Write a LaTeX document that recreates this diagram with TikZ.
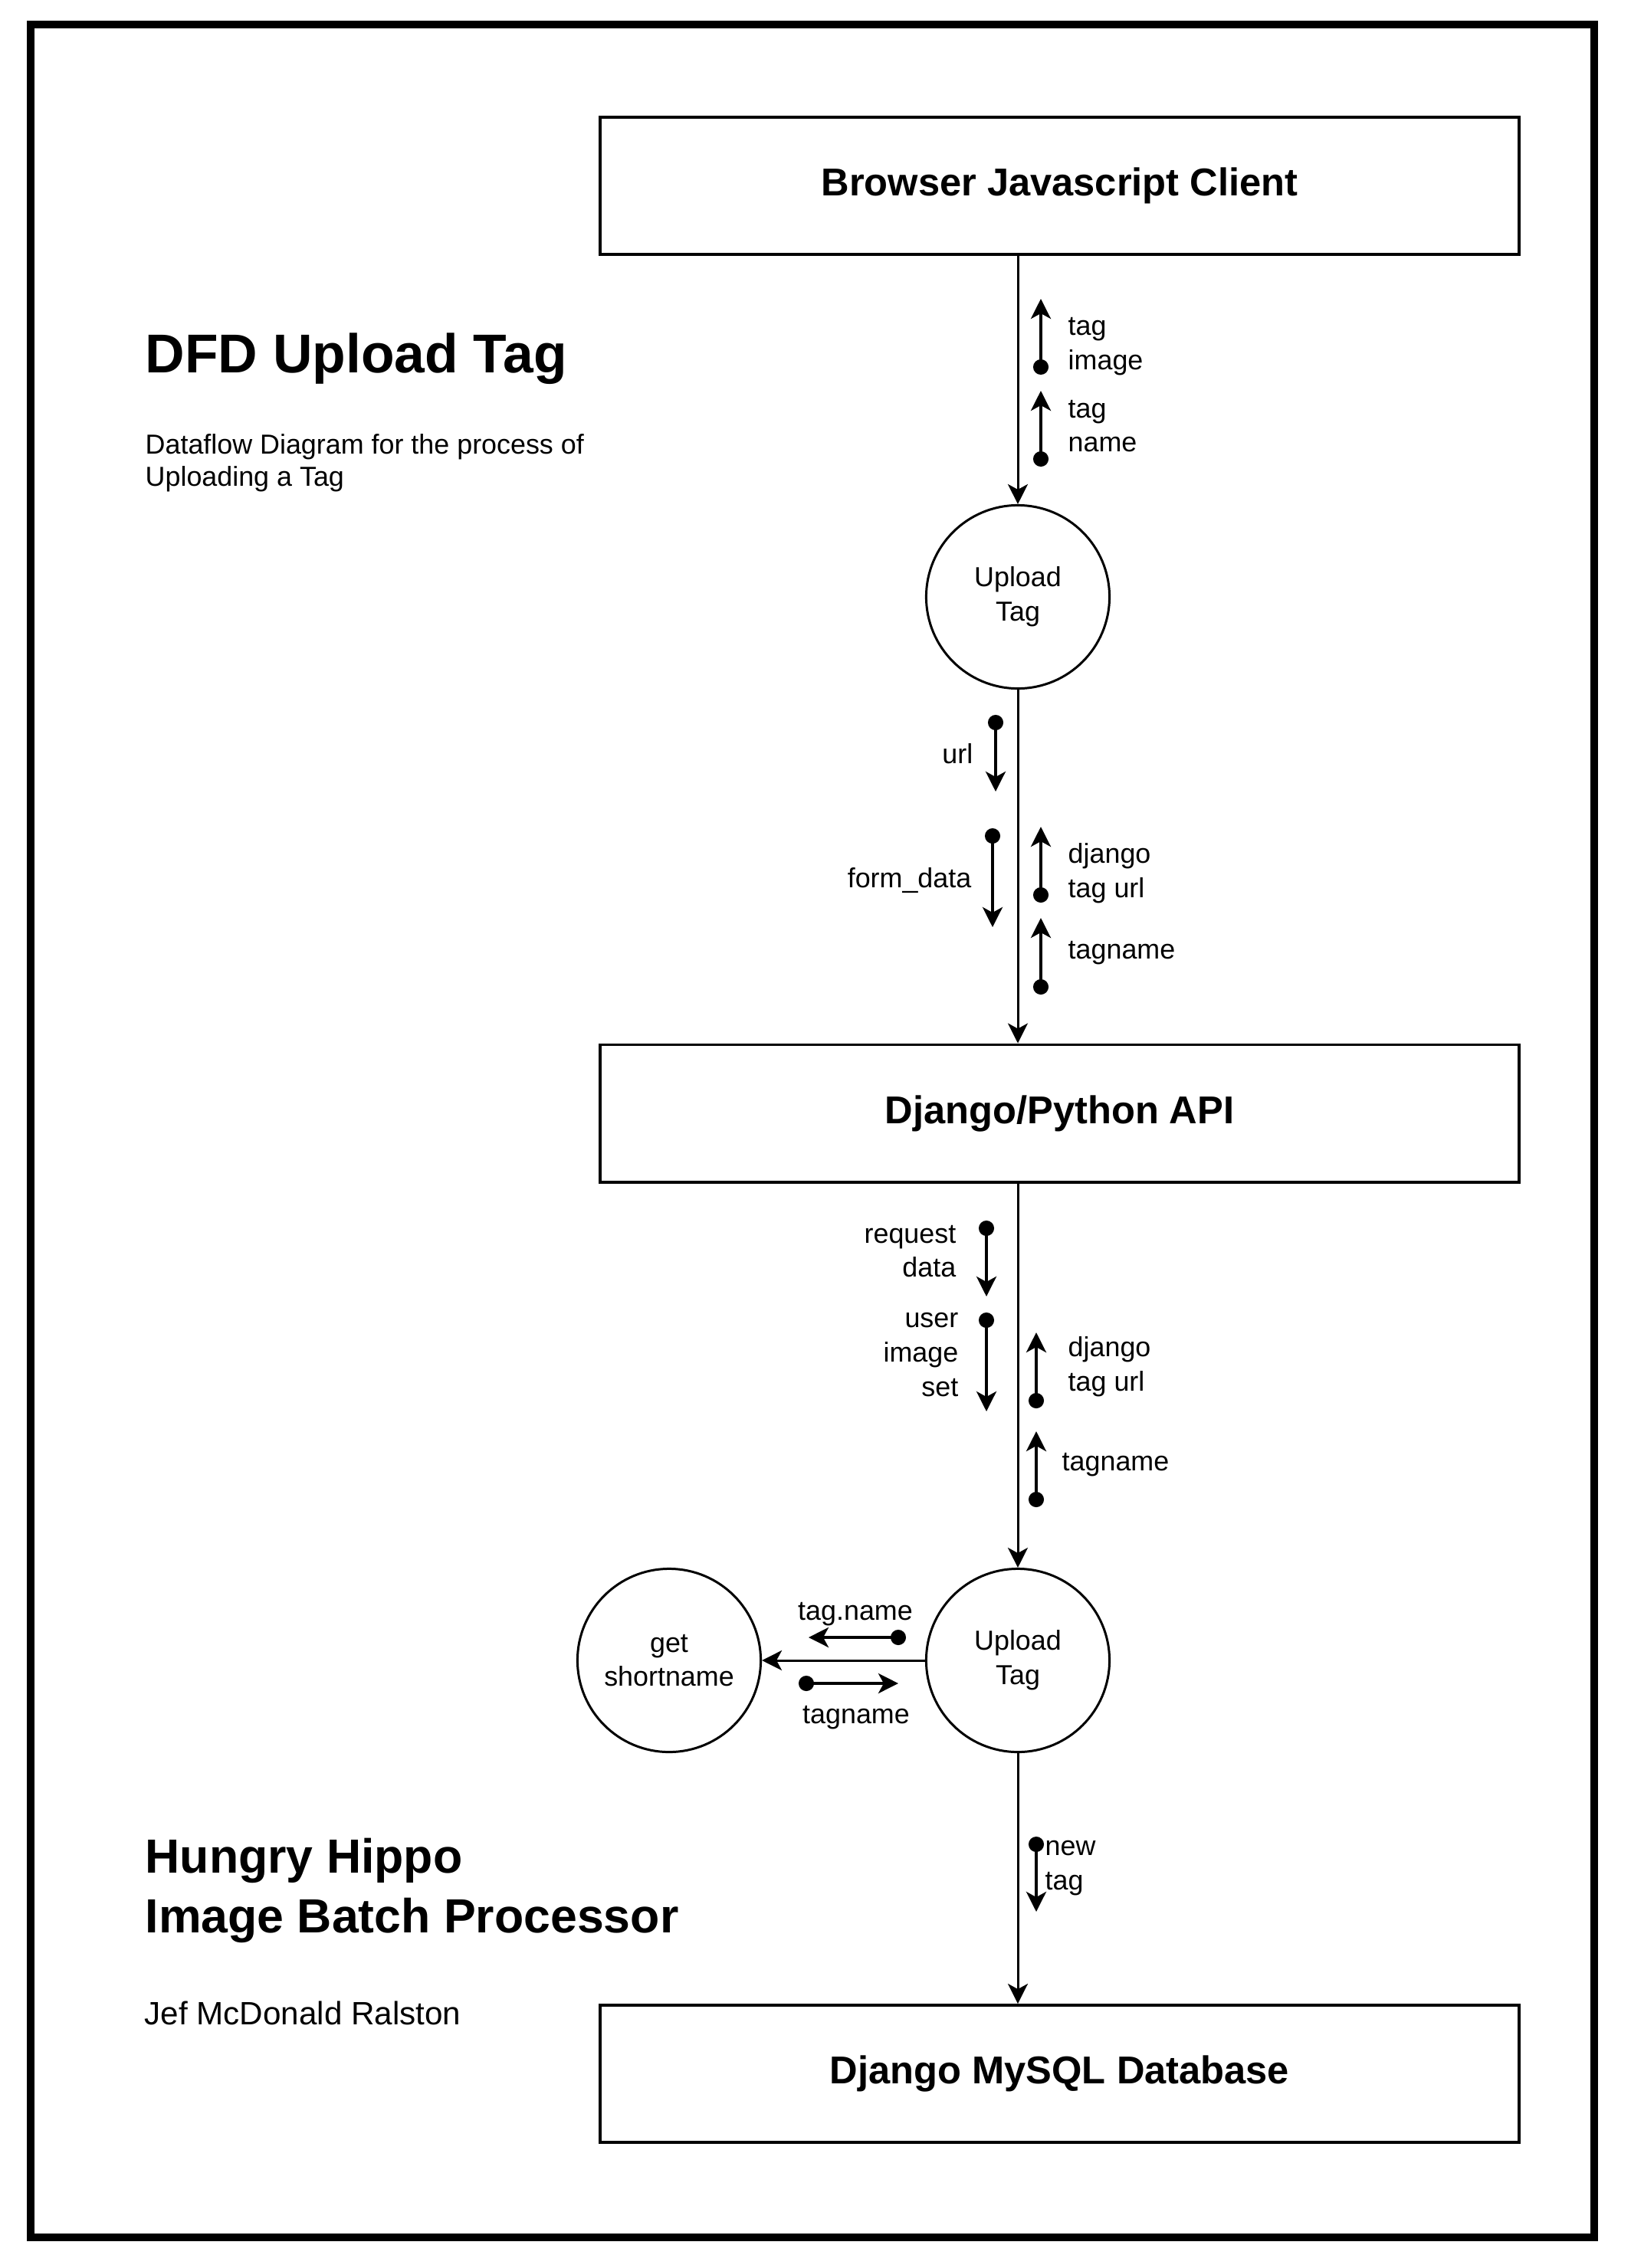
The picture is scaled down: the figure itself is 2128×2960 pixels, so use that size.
\documentclass[tikz,border=0pt]{standalone}
\usepackage{fontspec}
\setmainfont{Liberation Sans}
\usepackage{tikz}
\usetikzlibrary{arrows.meta,shapes,positioning,calc}
\newcommand{\lblfont}{\fontsize{10.2}{12.7}\selectfont}

\begin{document}
\begin{tikzpicture}[x=0.01cm, y=-0.01cm,
    store/.style={draw, line width=1.1pt, minimum width=11.99cm, minimum height=1.79cm,
        font=\bfseries\fontsize{14.4}{17}\selectfont},
    proc/.style={draw, circle, line width=0.85pt, minimum size=2.39cm, align=center,
        inner sep=0pt, font=\lblfont},
    flowline/.style={line width=0.85pt, -{Stealth[length=0.26cm, width=0.26cm, inset=0.07cm]}},
    datum/.style={line width=1.1pt,
        {Circle[length=0.2cm]}-{Stealth[length=0.26cm, width=0.26cm, inset=0.07cm]}},
    lbl/.style={inner sep=0pt, align=left, font=\lblfont},
    lblr/.style={inner sep=0pt, align=right, font=\lblfont}]
    \useasboundingbox (0,0) rectangle (2128,2960);

    % Page frame
    \draw[line width=2.85pt] (40,32) rectangle (2080,2920);

    % Titles
    \node[inner sep=0pt, anchor=west, font=\bfseries\fontsize{20.3}{24}\selectfont] (title) at (189,468) {DFD Upload Tag};
    \node[inner sep=0pt, anchor=west, align=left, font=\fontsize{10.2}{12}\selectfont] (subtitle) at (189,604)
        {Dataflow Diagram for the process of\\Uploading a Tag};
    \node[inner sep=0pt, anchor=west, align=left, font=\bfseries\fontsize{17.8}{22.2}\selectfont] (project) at (189,2467)
        {Hungry Hippo\\Image Batch Processor};
    \node[inner sep=0pt, anchor=west, font=\fontsize{12}{14}\selectfont] (author) at (188,2627) {Jef McDonald Ralston};

    % Entities and processes
    \node[store] (browser) at (1382.5,242.5) {Browser Javascript Client};
    \node[proc] (upload1) at (1328,779) {Upload\\Tag};
    \node[store] (api) at (1382.5,1453) {Django/Python API};
    \node[proc] (upload2) at (1328,2167) {Upload\\Tag};
    \node[proc] (shortname) at (873,2167) {get\\shortname};
    \node[store] (mysql) at (1382.5,2706.5) {Django MySQL Database};

    % Main flows
    \draw[flowline] (upload1 |- browser.south) -- (upload1.north);
    \draw[flowline] (upload1.south) -- (upload1 |- api.north);
    \draw[flowline] (upload2 |- api.south) -- (upload2.north);
    \draw[flowline] (upload2.west) -- (shortname.east);
    \draw[flowline] (upload2.south) -- (upload2 |- mysql.north);

    % Data items: browser -> upload
    \coordinate (d1a) at (1358,489);  \coordinate (d1b) at (1358,390);
    \coordinate (d2a) at (1358,609);  \coordinate (d2b) at (1358,510);
    \draw[datum] (d1a) -- (d1b);
    \draw[datum] (d2a) -- (d2b);
    \node[lbl, anchor=west] (l1) at (1393,452) {tag\\image};
    \node[lbl, anchor=west] (l2) at (1393,556) {tag\\name};

    % Data items: upload -> api
    \coordinate (d3a) at (1299,933);  \coordinate (d3b) at (1299,1033);
    \coordinate (d4a) at (1295,1081); \coordinate (d4b) at (1295,1210);
    \coordinate (d5a) at (1358,1178); \coordinate (d5b) at (1358,1079);
    \coordinate (d6a) at (1358,1298); \coordinate (d6b) at (1358,1198);
    \draw[datum] (d3a) -- (d3b);
    \draw[datum] (d4a) -- (d4b);
    \draw[datum] (d5a) -- (d5b);
    \draw[datum] (d6a) -- (d6b);
    \node[lblr, anchor=east] (l3) at (1270,984) {url};
    \node[lblr, anchor=east] (l4) at (1268,1149) {form\_data};
    \node[lbl, anchor=west] (l5) at (1393,1140) {django\\tag url};
    \node[lbl, anchor=west] (l6) at (1393,1244) {tagname};

    % Data items: api -> upload
    \coordinate (d7a) at (1287,1593);  \coordinate (d7b) at (1287,1692);
    \coordinate (d8a) at (1287,1713);  \coordinate (d8b) at (1287,1842);
    \coordinate (d9a) at (1352,1838);  \coordinate (d9b) at (1352,1739);
    \coordinate (d10a) at (1352,1967); \coordinate (d10b) at (1352,1868);
    \draw[datum] (d7a) -- (d7b);
    \draw[datum] (d8a) -- (d8b);
    \draw[datum] (d9a) -- (d9b);
    \draw[datum] (d10a) -- (d10b);
    \node[lblr, anchor=east] (l7) at (1248,1633) {request\\data};
    \node[lblr, anchor=east] (l8) at (1251,1768) {user\\image\\set};
    \node[lbl, anchor=west] (l9) at (1393,1784) {django\\tag url};
    \node[lbl, anchor=west] (l10) at (1385,1912) {tagname};

    % Data items: upload <-> get shortname
    \coordinate (d11a) at (1182,2137); \coordinate (d11b) at (1055,2137);
    \coordinate (d12a) at (1042,2197); \coordinate (d12b) at (1172,2197);
    \draw[datum] (d11a) -- (d11b);
    \draw[datum] (d12a) -- (d12b);
    \node[lbl] (l11) at (1116,2107) {tag.name};
    \node[lbl] (l12) at (1117,2242) {tagname};

    % Data item: upload -> database
    \coordinate (d13a) at (1352,2397); \coordinate (d13b) at (1352,2495);
    \draw[datum] (d13a) -- (d13b);
    \node[lbl, anchor=west] (l13) at (1363,2438) {new\\tag};
\end{tikzpicture}
\end{document}
